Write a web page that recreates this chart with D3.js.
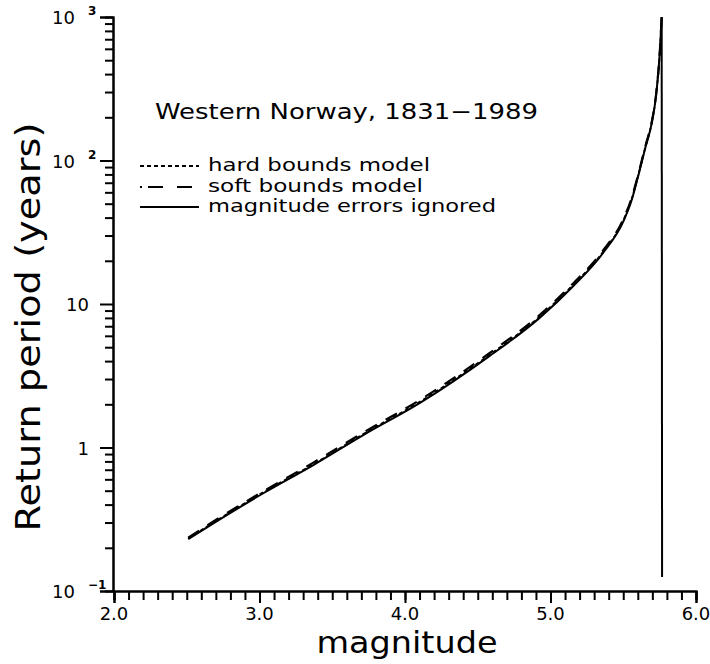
<!DOCTYPE html>
<html>
<head>
<meta charset="utf-8">
<script src="https://cdn.jsdelivr.net/npm/d3@7/dist/d3.min.js"></script>
<style>
body { margin: 0; background: #fff; }
.lab { font-family: "DejaVu Sans", sans-serif; fill: #000; }
</style>
</head>
<body>
<div id="chart"></div>
<script>
// values
var magnitude     = [2.51, 2.683, 3.026, 3.37, 3.713, 4.114, 4.575, 4.921, 5.152, 5.36, 5.50, 5.558, 5.60, 5.654, 5.695, 5.725, 5.752, 5.764];
var ignoredPeriod = [0.23, 0.296, 0.48, 0.755, 1.22, 2.08, 4.3, 7.94, 13.2, 22.6, 37.5, 53, 76, 125, 180, 280, 580, 1000];
var hardPeriod    = [0.232, 0.30, 0.488, 0.765, 1.24, 2.12, 4.38, 8.1, 13.5, 23.0, 38.2, 54, 77, 126, 182, 282, 585, 1000];
var softPeriod    = [0.235, 0.305, 0.495, 0.785, 1.27, 2.18, 4.5, 8.3, 13.8, 23.5, 39, 55, 78, 128, 184, 285, 590, 1000];
var dropMagnitude = [5.764, 5.767];
var dropPeriod    = [1000, 0.125];

var xTicks = [2.0, 3.0, 4.0, 5.0, 6.0];
var xTickLabels = ["2.0", "3.0", "4.0", "5.0", "6.0"];
var yTicks = [0.1, 1, 10, 100, 1000];
var yTickBase = ["10", "1", "10", "10", "10"];
var yTickExp = ["\u22121", "", "", "2", "3"];
var legendNames = ["hard bounds model", "soft bounds model", "magnitude errors ignored"];

var svg = d3.select("#chart")
            .append("svg")
            .attr("width", 710)
            .attr("height", 664);

var x = d3.scaleLinear().domain([2, 6]).range([114, 696]);
var y = d3.scaleLog().domain([0.1, 1000]).range([591, 17]);

var xMinor = d3.range(20, 61).map(function(d) { return d / 10; });
var yMinor = [];
[0.1, 1, 10, 100].forEach(function(b) {
  for (var k = 2; k <= 9; k++) yMinor.push(b * k);
});

// axes: minor ticks then major ticks
svg.append("g")
   .attr("transform", "translate(0,591)")
   .attr("stroke-width", 2)
   .call(d3.axisBottom(x).tickValues(xMinor).tickSize(9).tickFormat(""));
svg.append("g")
   .attr("transform", "translate(0,591)")
   .attr("stroke-width", 2)
   .call(d3.axisBottom(x).tickValues(xTicks).tickSize(12).tickFormat(""));
svg.append("g")
   .attr("transform", "translate(113,0)")
   .attr("stroke-width", 2)
   .call(d3.axisLeft(y).tickValues(yMinor).tickSize(8).tickFormat(""));
svg.append("g")
   .attr("transform", "translate(113,0)")
   .attr("stroke-width", 2)
   .call(d3.axisLeft(y).tickValues(yTicks).tickSize(13).tickFormat(""));

// x tick labels
svg.selectAll(".xlab")
   .data(xTicks)
   .enter()
   .append("text")
   .attr("class", "lab xlab")
   .attr("x", function(d) { return x(d); })
   .attr("y", 620)
   .attr("text-anchor", "middle")
   .attr("font-size", "18px")
   .text(function(d, i) { return xTickLabels[i]; });

// y tick labels with exponents
yTicks.forEach(function(v, i) {
  var yy = y(v) + 7;
  if (yTickExp[i]) {
    svg.append("text")
       .attr("class", "lab")
       .attr("x", 75).attr("y", yy)
       .attr("text-anchor", "end")
       .attr("font-size", "18px")
       .text(yTickBase[i]);
    svg.append("text")
       .attr("class", "lab")
       .attr("x", 88).attr("y", yy - 9)
       .attr("font-size", "12px")
       .attr("font-weight", "bold")
       .text(yTickExp[i]);
  } else {
    svg.append("text")
       .attr("class", "lab")
       .attr("x", 89).attr("y", yy)
       .attr("text-anchor", "end")
       .attr("font-size", "18px")
       .text(yTickBase[i]);
  }
});

// axis titles
svg.append("text")
   .attr("class", "lab")
   .attr("x", 407).attr("y", 653)
   .attr("text-anchor", "middle")
   .attr("font-size", "30px")
   .attr("textLength", 181)
   .attr("lengthAdjust", "spacingAndGlyphs")
   .text("magnitude");

svg.append("text")
   .attr("class", "lab")
   .attr("transform", "translate(40,327) rotate(-90)")
   .attr("text-anchor", "middle")
   .attr("font-size", "33px")
   .attr("textLength", 409)
   .attr("lengthAdjust", "spacingAndGlyphs")
   .text("Return period (years)");

// title
svg.append("text")
   .attr("class", "lab")
   .attr("x", 155).attr("y", 119)
   .attr("font-size", "22px")
   .attr("textLength", 383)
   .attr("lengthAdjust", "spacingAndGlyphs")
   .text("Western Norway, 1831\u22121989");

// curves
function lineFor(vals) {
  return d3.line()
           .x(function(d, i) { return x(magnitude[i]); })
           .y(function(d) { return y(d); })
           .curve(d3.curveMonotoneX)(vals);
}

svg.append("path")
   .attr("d", lineFor(hardPeriod))
   .attr("fill", "none").attr("stroke", "#000")
   .attr("stroke-width", 1.8)
   .attr("stroke-dasharray", "4,3");

svg.append("path")
   .attr("d", lineFor(softPeriod))
   .attr("fill", "none").attr("stroke", "#000")
   .attr("stroke-width", 2.2)
   .attr("stroke-dasharray", "13,10");

svg.append("path")
   .attr("d", lineFor(ignoredPeriod))
   .attr("fill", "none").attr("stroke", "#000")
   .attr("stroke-width", 2);

svg.append("path")
   .attr("d", d3.line()
                .x(function(d, i) { return x(dropMagnitude[i]); })
                .y(function(d) { return y(d); })(dropPeriod))
   .attr("fill", "none").attr("stroke", "#000")
   .attr("stroke-width", 2);

// legend
var legendDash = ["4,3", "2,6,15,14,15,10", null];
var legendRows = [171, 192, 212];
var legendLen = [222, 215, 288];

legendNames.forEach(function(name, i) {
  var ly = legendRows[i] - 5;
  svg.append("line")
     .attr("x1", 140).attr("x2", 199)
     .attr("y1", ly).attr("y2", ly)
     .attr("stroke", "#000")
     .attr("stroke-width", 2)
     .attr("stroke-dasharray", legendDash[i]);
  svg.append("text")
     .attr("class", "lab")
     .attr("x", 208).attr("y", legendRows[i])
     .attr("font-size", "17px")
     .attr("textLength", legendLen[i])
     .attr("lengthAdjust", "spacingAndGlyphs")
     .text(name);
});
</script>
</body>
</html>
